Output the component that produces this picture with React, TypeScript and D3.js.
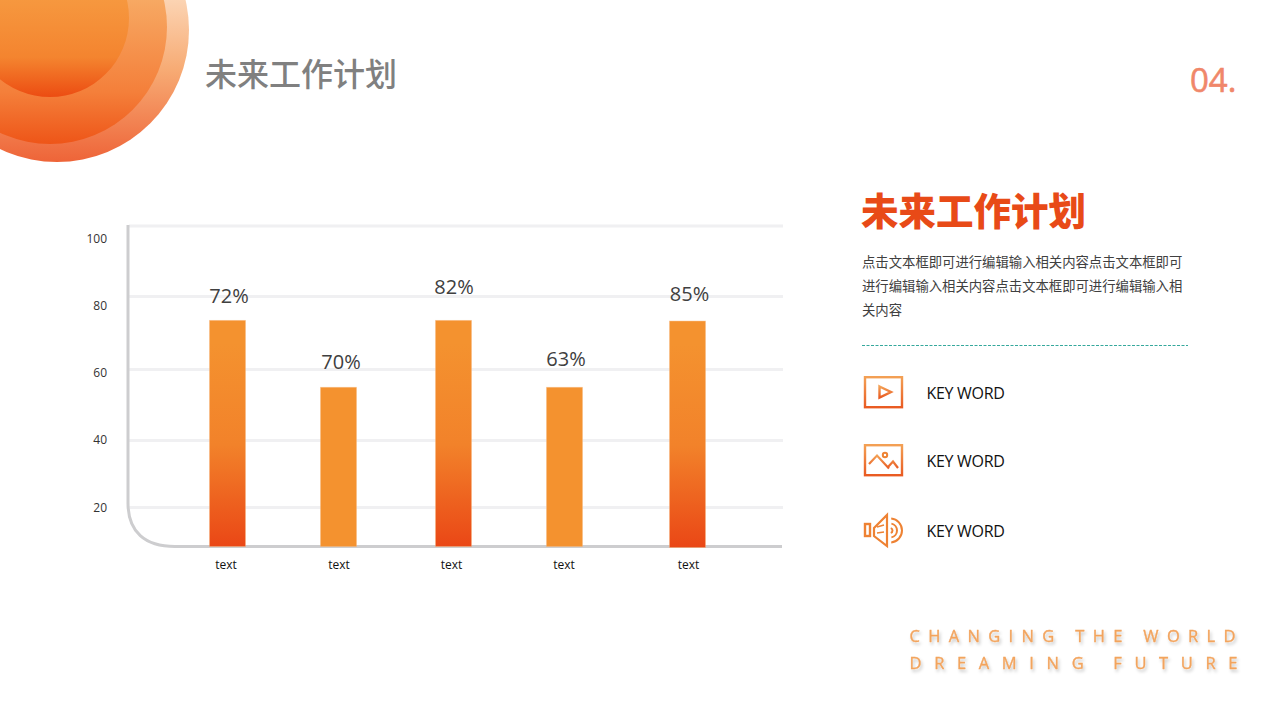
import React from "react";
import * as d3 from "d3";

const categories = ["text", "text", "text", "text", "text"];
const barValues = [75.5, 55.6, 75.5, 55.6, 75.3];
const valueLabels = ["72%", "70%", "82%", "63%", "85%"];
const labelValues = [80.7, 61.0, 83.3, 61.9, 81.3];
const axisTicks = [100, 80, 60, 40, 20];
const gradientBar = [true, false, true, false, true];

const LATIN = "'Open Sans','Noto Sans CJK SC',sans-serif";
const CJK = "'Noto Sans CJK SC','Open Sans',sans-serif";

const yScale = d3.scaleLinear().domain([20, 100]).range([507, 238]);
const gridScale = d3.scaleLinear().domain([20, 40, 60, 80, 100]).range([507.5, 440.5, 369.5, 296.5, 226]);
const slot = d3.scaleLinear().domain([0, 1, 2, 3, 4]).range([227.5, 338.5, 453.5, 564.5, 687.5]);
const catSlot = d3.scaleLinear().domain([0, 1, 2, 3, 4]).range([226, 339, 451.5, 564, 688.5]);
const labelSlot = d3.scaleLinear().domain([0, 1, 2, 3, 4]).range([229, 341, 454, 566, 689.5]);
const BASE = 546.5;
const BAR_W = 36;

const axisPath = d3.path();
axisPath.moveTo(128, 225);
axisPath.lineTo(128, 503);
axisPath.bezierCurveTo(128, 532, 145, 546.5, 175, 546.5);
axisPath.lineTo(782, 546.5);

const para = [
  "点击文本框即可进行编辑输入相关内容点击文本框即可",
  "进行编辑输入相关内容点击文本框即可进行编辑输入相",
  "关内容",
];

const arc = (r: number, a0: number, a1: number) =>
  d3.arc()({ innerRadius: r, outerRadius: r, startAngle: a0, endAngle: a1 }) as string;

export default function App() {
  return (
    <svg width={1280} height={720} style={{ position: "absolute", left: 0, top: 0, background: "#fff" }}>
      <defs>
        <linearGradient id="c1" x1="0" y1="0" x2="0" y2="1">
          <stop offset="0.35" stopColor="#fcd9bb" />
          <stop offset="0.65" stopColor="#f7ab74" />
          <stop offset="1" stopColor="#ee6438" />
        </linearGradient>
        <linearGradient id="c2" x1="0" y1="0" x2="0" y2="1">
          <stop offset="0.38" stopColor="#f7a963" />
          <stop offset="0.78" stopColor="#f47f3a" />
          <stop offset="1" stopColor="#ee5518" />
        </linearGradient>
        <linearGradient id="c3" x1="0" y1="0" x2="0" y2="1">
          <stop offset="0.38" stopColor="#f6983f" />
          <stop offset="0.75" stopColor="#f4842f" />
          <stop offset="1" stopColor="#ec4c12" />
        </linearGradient>
        <linearGradient id="bar" x1="0" y1="0" x2="0" y2="1">
          <stop offset="0.1" stopColor="#f4922f" />
          <stop offset="0.55" stopColor="#f2822a" />
          <stop offset="1" stopColor="#ea4716" />
        </linearGradient>
        <linearGradient id="ic" x1="0" y1="0" x2="0" y2="1">
          <stop offset="0" stopColor="#f3a054" />
          <stop offset="1" stopColor="#e95b22" />
        </linearGradient>
        <filter id="soft" x="-10%" y="-50%" width="120%" height="200%">
          <feDropShadow dx="1.5" dy="2.5" stdDeviation="1.5" floodColor="#000" floodOpacity="0.22" />
        </filter>
      </defs>

      <circle cx={57} cy={30} r={132} fill="url(#c1)" />
      <circle cx={50} cy={27} r={117} fill="url(#c2)" />
      <circle cx={50} cy={18} r={79} fill="url(#c3)" />

      <text x={205} y={86} fontFamily={CJK} fontSize={32} fontWeight={500} fill="#808080">未来工作计划</text>
      <text x={1190} y={92} fontFamily={LATIN} fontSize={33} fill="#f0876a" stroke="#f0876a" strokeWidth={0.6}>04.</text>

      {axisTicks.map((t) => (
        <line key={t} x1={129} x2={783} y1={gridScale(t)} y2={gridScale(t)} stroke="#f0f0f2" strokeWidth={3} />
      ))}
      <path d={axisPath.toString()} fill="none" stroke="#cdcdcf" strokeWidth={3} />
      {axisTicks.map((t) => (
        <text key={t} x={107} y={yScale(t) + 4.5} textAnchor="end" fontFamily={LATIN} fontSize={12} fill="#333">{t}</text>
      ))}

      {barValues.map((v, i) => (
        <rect
          key={i}
          x={slot(i) - BAR_W / 2}
          y={yScale(v)}
          width={BAR_W}
          height={BASE - yScale(v) + (i === 4 ? 1 : 0)}
          fill={gradientBar[i] ? "url(#bar)" : "#f4922f"}
          stroke="#f9b77e"
          strokeOpacity={0.5}
          strokeWidth={0.8}
        />
      ))}
      {valueLabels.map((l, i) => (
        <text key={i} x={labelSlot(i)} y={yScale(labelValues[i])} textAnchor="middle" fontFamily={LATIN} fontSize={20} fill="#404040">{l}</text>
      ))}
      {categories.map((c, i) => (
        <text key={i} x={catSlot(i)} y={569} textAnchor="middle" fontFamily={LATIN} fontSize={12} fill="#111">{c}</text>
      ))}

      <text x={861} y={224.5} fontFamily={CJK} fontSize={37.5} fontWeight={900} fill="#e84a17">未来工作计划</text>
      {para.map((p, i) => (
        <text key={i} x={862} y={267 + i * 24} fontFamily={CJK} fontSize={13.35} fill="#404040">{p}</text>
      ))}
      <line x1={862} x2={1188} y1={345.5} y2={345.5} stroke="#35a89c" strokeWidth={1} strokeDasharray="3 1.5" />

      <g fill="none" stroke="url(#ic)" strokeWidth={2.4}>
        <rect x={865} y={377.2} width={37} height={30} />
        <rect x={865} y={445.2} width={37} height={30} />
        <path d="M879.5 386.5 L891 392 L879.5 397.5 Z" />
        <path d="M869 464 L877 455.5 L889 468.5 M888 467 L893 461.5 L898 468" strokeWidth={2.2} />
      </g>
      <g fill="none" stroke="#ee8233" strokeWidth={2}>
        <circle cx={885} cy={455} r={2.2} />
        <rect x={865} y={524} width={5} height={12} strokeWidth={2.4} />
        <path d="M874 528 L887 515 L887 546 L874 536 Z" strokeWidth={2.2} />
        <path d="M877 527 L884 525 M877 533 L884 532" strokeWidth={1.5} />
        <path d={arc(2.5, 0.3, 2.84)} transform="translate(890,530.5)" />
        <path d={arc(7, 0.2, 2.94)} transform="translate(890,530.5)" />
        <path d={arc(12, 0.1, 3.04)} transform="translate(890,530.5)" />
      </g>
      {[399, 467, 537].map((y) => (
        <text key={y} x={926.5} y={y} fontFamily={LATIN} fontSize={16} fill="#111" letterSpacing={-0.3}>KEY WORD</text>
      ))}

      <g fontFamily={LATIN} fontSize={16.5} fill="#f2a45e" stroke="#f2a45e" strokeWidth={0.35} filter="url(#soft)" style={{ whiteSpace: "pre" }}>
        <text x={909.5} y={642} textLength={326} lengthAdjust="spacing">CHANGING THE WORLD</text>
        <text x={909.5} y={669} textLength={328} lengthAdjust="spacing">DREAMING  FUTURE</text>
      </g>
    </svg>
  );
}
